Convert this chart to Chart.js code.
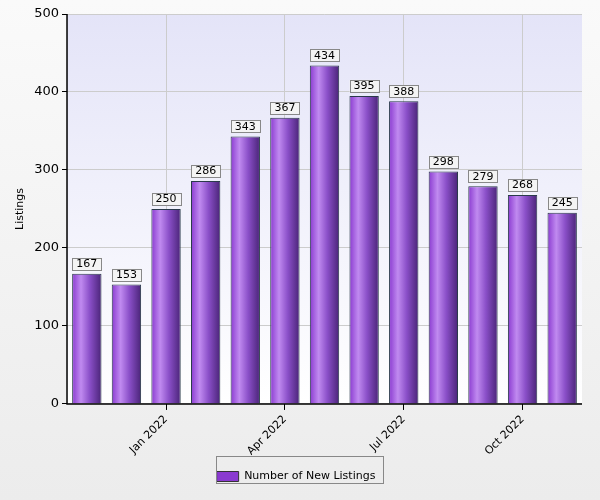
<!DOCTYPE html>
<html><head><meta charset="utf-8">
<script src="https://cdn.jsdelivr.net/npm/chart.js@4"></script>
<style>
html,body{margin:0;padding:0;background:linear-gradient(#fafafa,#ececec);}
#wrap{width:600px;height:500px;position:relative;}
</style></head><body>
<div id="wrap"><canvas id="c" width="600" height="500"></canvas></div>
<script>
const categories = ["Nov 2021","Dec 2021","Jan 2022","Feb 2022","Mar 2022","Apr 2022","May 2022","Jun 2022","Jul 2022","Aug 2022","Sep 2022","Oct 2022","Nov 2022"];
const newListings = [167,153,250,286,343,367,434,395,388,298,279,268,245];
const shownTicks = ["Jan 2022","Apr 2022","Jul 2022","Oct 2022"];
const yTicks = [0,100,200,300,400,500];

function barGrad(ctx){
  const chart = ctx.chart, a = chart.chartArea, xs = chart.scales && chart.scales.x;
  if(!a || !xs || ctx.dataIndex === undefined) return '#8a3fd0';
  const cx = xs.getPixelForValue(ctx.dataIndex);
  const w = (a.right-a.left)/categories.length*0.95*0.78;
  const x0 = cx - w/2;
  if(!isFinite(x0) || !isFinite(w)) return '#8a3fd0';
  const g = chart.ctx.createLinearGradient(x0,0,x0+w,0);
  g.addColorStop(0,'#8a3ad0');
  g.addColorStop(0.3,'#c08af0');
  g.addColorStop(0.6,'#8a4fc8');
  g.addColorStop(1,'#4a2478');
  return g;
}
const bgPlugin = {id:'bg', beforeDraw(chart){
  const {ctx, chartArea:a} = chart;
  const g = ctx.createLinearGradient(0,a.top,0,a.bottom);
  g.addColorStop(0,'#e4e4f8'); g.addColorStop(1,'#ffffff');
  ctx.save(); ctx.fillStyle=g; ctx.fillRect(a.left,a.top,a.right-a.left,a.bottom-a.top); ctx.restore();
}, afterDatasetsDraw(chart){
  const ctx = chart.ctx; const meta = chart.getDatasetMeta(0);
  ctx.save(); ctx.font='11px "DejaVu Sans", Arial'; ctx.textAlign='center'; ctx.textBaseline='middle';
  meta.data.forEach((b,i)=>{
    const t = String(newListings[i]); const w = ctx.measureText(t).width+8;
    const y = b.y-10;
    ctx.fillStyle='#f4f4f4'; ctx.fillRect(b.x-w/2,y-6,w,12);
    ctx.strokeStyle='#888'; ctx.lineWidth=1; ctx.strokeRect(Math.round(b.x-w/2)+0.5,Math.round(y-6)+0.5,Math.round(w),12);
    ctx.fillStyle='#000'; ctx.fillText(t,b.x,y+0.5);
  });
  const a = chart.chartArea;
  ctx.strokeStyle='#000'; ctx.lineWidth=1.5;
  ctx.beginPath(); ctx.moveTo(a.left,a.top); ctx.lineTo(a.left,a.bottom); ctx.lineTo(a.right,a.bottom); ctx.stroke();
  ctx.strokeStyle='#888'; ctx.lineWidth=1;
  ctx.strokeRect(216.5,456.5,167,27);
  ctx.restore();
}};
new Chart(document.getElementById('c'),{
  type:'bar',
  data:{labels:categories,datasets:[{label:'Number of New Listings',data:newListings,
    backgroundColor:barGrad,borderColor:'#2a3a4a',borderWidth:1,categoryPercentage:0.95,barPercentage:0.78}]},
  options:{responsive:false,animation:false,
    layout:{padding:{left:10,right:18,top:14,bottom:8}},
    plugins:{tooltip:{enabled:false},
      legend:{position:'bottom',labels:{boxWidth:22,boxHeight:10,color:'#000',font:{size:11,family:'"DejaVu Sans", Arial'},
        generateLabels:()=>[{text:'Number of New Listings',fillStyle:'#8a3ad0',strokeStyle:'#333',lineWidth:1}],padding:10}}},
    scales:{
      x:{grid:{offset:false,color:(c)=>shownTicks.includes(categories[c.index])?'#cccccc':'rgba(0,0,0,0)',
          tickColor:(c)=>shownTicks.includes(categories[c.index])?'#000':'rgba(0,0,0,0)',tickLength:6,drawTicks:true},
        border:{display:false},
        ticks:{autoSkip:false,maxRotation:45,minRotation:45,color:'#000',font:{size:11,family:'"DejaVu Sans", Arial'},
          callback:(v,i)=>shownTicks.includes(categories[i])?categories[i]:''}},
      y:{min:0,max:500,afterBuildTicks:(s)=>{s.ticks=yTicks.map(v=>({value:v}));},
        grid:{color:'#cccccc',tickColor:'#000',tickLength:5},border:{display:false},
        title:{display:true,text:'Listings',color:'#000',font:{size:11,family:'"DejaVu Sans", Arial'}},
        ticks:{color:'#000',font:{size:13,family:'"DejaVu Sans", Arial'}}}
    }},
  plugins:[bgPlugin]
});
</script></body></html>
